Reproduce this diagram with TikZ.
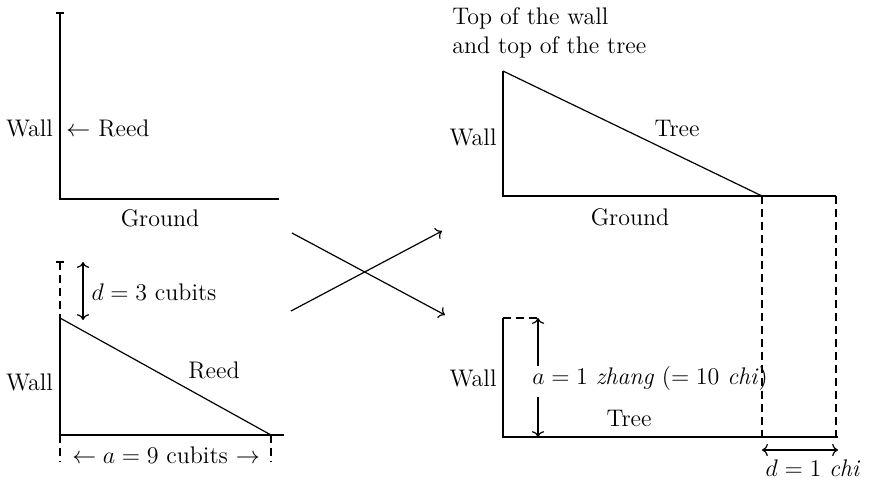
\documentclass[tikz,border=0pt,12pt]{standalone}
\usepackage{amsfonts,amssymb,amsmath}
\usepackage{tikz}
\usetikzlibrary{arrows.meta}

\tikzset{side/.style={thick},
  slant/.style={semithick},
  aux/.style={semithick,dashed,dash pattern=on 4pt off 2.5pt},
  measure/.style={semithick,{To}-{To}}}

\begin{document}
\begin{tikzpicture}[x=0.5pt,y=-0.5pt,>=To]
\useasboundingbox (0,0) rectangle (870,483);
% reed standing against the wall
\coordinate (A1) at (60,13);
\coordinate (B1) at (60,199);
\coordinate (C1) at (279,199);
\draw[side](56,13)--(64,13);
\draw[side](A1)--(B1)--(C1);
\node (wall1) at (29.5,128){Wall};
\node (reed1) at (108,128){$\leftarrow$ Reed};
\node (ground1) at (160,218){Ground};
% reed pulled down to the ground
\coordinate (A2) at (60,262);
\coordinate (T2) at (60,318);
\coordinate (B2) at (60,435);
\coordinate (E2) at (271,435);
\draw[side](56,262)--(64,262);
\draw[aux](A2)--(T2);
\draw[side](T2)--(B2)--(284,435);
\draw[slant](T2)--(E2);
\draw[aux](B2)--++(0,27);
\draw[aux](E2)--++(0,27);
\draw[measure](83,262)--(83,320);
\node (d2) at (154,292){$d=3$ cubits};
\node (reed2) at (214,370){Reed};
\node (wall2) at (29.5,382){Wall};
\node (a2) at (166,455){$\leftarrow a=9$ cubits $\rightarrow$};
% crossing arrows
\coordinate (P1) at (292,233);
\coordinate (Q1) at (445,315);
\coordinate (P2) at (291,311);
\coordinate (Q2) at (442,231);
\draw[semithick,->](P1)--(Q1);
\draw[semithick,->](P2)--(Q2);
% tree falling from the top of the wall
\node[anchor=north west,align=left,inner sep=0pt] (top3) at (452,7){Top of the wall\\and top of the tree};
\coordinate (A3) at (503,71);
\coordinate (B3) at (503,196);
\coordinate (E3) at (762,196);
\coordinate (F3) at (836,196);
\draw[side](A3)--(B3)--(F3);
\draw[slant](A3)--(E3);
\node (wall3) at (473,137){Wall};
\node (tree3) at (677,128){Tree};
\node (ground3) at (630,217){Ground};
% tree lying on the ground
\coordinate (A4) at (503,318);
\coordinate (B4) at (503,437);
\coordinate (E4) at (762,437);
\coordinate (F4) at (838,437);
\draw[aux](E3)--(E4);
\draw[aux](F3)--(836,437);
\draw[side](A4)--(B4)--(F4);
\draw[aux](A4)--(538,318);
\node (a4) at (650,378){$a=1$ \textit{zhang} $(=10$ \textit{chi}$)$};
\draw[semithick,->](538,366)--(538,318);
\draw[semithick,->](538,397)--(538,437);
\node (wall4) at (473,378){Wall};
\node (tree4) at (629,418){Tree};
\draw[measure](762,450)--(838,450);
\node (d4) at (813,468){$d=1$ \textit{chi}};
\end{tikzpicture}
\end{document}
